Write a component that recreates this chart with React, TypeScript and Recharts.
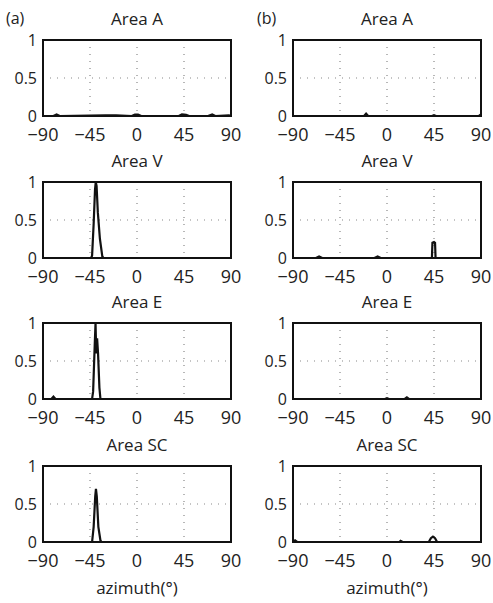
import { LineChart, Line, XAxis, YAxis, CartesianGrid } from "recharts";

const xTicks = [-90, -45, 0, 45, 90];
const yTicks = [0, 0.5, 1];

// (a) column
const azAa = [-90, -80, -77, -74, -45, -30, -20, -5, -2, 1, 4, 40, 43, 47, 50, 68, 72, 75, 88, 90];
const valAa = [0, 0, 0.02, 0, 0.005, 0.01, 0.01, 0, 0.02, 0.02, 0, 0, 0.02, 0.015, 0, 0, 0.02, 0, 0.01, 0];
const azVa = [-90, -44, -43, -41.5, -40.2, -39.5, -38.7, -37.5, -35.5, -33.2, -32, 90];
const valVa = [0, 0, 0.03, 0.45, 0.9, 1.0, 0.95, 0.6, 0.25, 0.02, 0, 0];
const azEa = [-90, -82, -80, -78, -43, -42, -40.5, -39.7, -39, -38.2, -37.3, -36, -35, 90];
const valEa = [0, 0, 0.03, 0, 0, 0.1, 0.7, 1.0, 0.6, 0.8, 0.6, 0.15, 0, 0];
const azSCa = [-90, -43, -41.5, -40, -39.3, -38.5, -37, -35, -34, 90];
const valSCa = [0, 0, 0.2, 0.6, 0.7, 0.6, 0.2, 0.02, 0, 0];

// (b) column
const azAb = [-90, -22, -20, -18, 43, 45, 47, 88, 90];
const valAb = [0, 0, 0.03, 0, 0, 0.01, 0, 0, 0.02];
const azVb = [-90, -68, -65, -62, -12, -9, -6, 43, 43.5, 45, 46, 46.5, 90];
const valVb = [0, 0, 0.02, 0, 0, 0.02, 0, 0, 0.2, 0.21, 0.2, 0, 0];
const azEb = [-90, -2, 0, 2, 17, 19, 21, 90];
const valEb = [0, 0, 0.01, 0, 0, 0.02, 0, 0];
const azSCb = [-90, -88, -86, 12, 13, 15, 40, 42, 44, 46, 48, 90];
const valSCb = [0, 0.02, 0, 0, 0.015, 0, 0, 0.05, 0.07, 0.05, 0, 0];

const FONT = "'Open Sans', sans-serif";
const PW = 188;
const PH = 76;
const YW = 43;
const MT = 12;
const MR = 16;

const zip = (az: number[], val: number[]) => az.map((a, i) => ({ az: a, v: val[i] }));
const fmtX = (v: number) => String(v).replace("-", "\u2212");

const bar = (l: number, t: number, w: number, h: number) => (
  <div style={{ position: "absolute", zIndex: 5, left: l, top: t, width: w, height: h, backgroundColor: "#111" }} />
);

function Panel({ left, top, title, az, val, xlabel }: { left: number; top: number; title: string; az: number[]; val: number[]; xlabel?: boolean }) {
  const data = zip(az, val);
  const axis = { stroke: "#111", strokeWidth: 1.5 };
  return (
    <div style={{ position: "absolute", left: left - YW, top: top - 32, width: YW + PW + MR, height: 150 }}>
      <div style={{ position: "absolute", left: YW, top: 0, width: PW, textAlign: "center", fontFamily: FONT, fontSize: 17, color: "#222", lineHeight: "22px" }}>
        {title}
      </div>
      <div style={{ position: "absolute", left: 0, top: 32 - MT }}>
        <LineChart width={YW + PW + MR} height={PH + MT + 32} data={data} margin={{ top: MT, right: MR, bottom: 0, left: 0 }}>
          <CartesianGrid stroke="#888" strokeDasharray="1 6" strokeWidth={1.2} />
          <XAxis dataKey="az" type="number" domain={[-90, 90]} ticks={xTicks} tickFormatter={fmtX}
            axisLine={axis} tickLine={false} tickSize={0} tickMargin={12} height={32}
            tick={{ fill: "#222", fontSize: 18, fontFamily: FONT }} interval={0} />
          <YAxis type="number" domain={[0, 1]} ticks={yTicks} axisLine={axis} tickLine={false} tickSize={0} tickMargin={6}
            width={YW} tick={{ fill: "#222", fontSize: 16, fontFamily: FONT }} interval={0} />
          <Line dataKey="v" type="linear" stroke="#111" strokeWidth={2.2} dot={false} isAnimationActive={false} />
        </LineChart>
      </div>
      {/* plot frame */}
      {bar(YW - 1, 31, PW + 2, 2)}
      {bar(YW - 1, 32 + PH - 1, PW + 2, 2)}
      {bar(YW - 1, 31, 2, PH + 2)}
      {bar(YW + PW - 1, 31, 2, PH + 2)}
      {xlabel && (
        <div style={{ position: "absolute", left: YW, top: 32 + PH + 35, width: PW, textAlign: "center", fontFamily: FONT, fontSize: 17, color: "#222", lineHeight: "22px" }}>
          azimuth(°)
        </div>
      )}
    </div>
  );
}

export default function App() {
  const L = 43;
  const R = 293;
  const rows = [40, 182, 323, 466];
  return (
    <div style={{ position: "absolute", left: 0, top: 0, width: 493, height: 603, background: "#fff" }}>
      <div style={{ position: "absolute", left: 6, top: 7, fontFamily: FONT, fontSize: 16, color: "#222" }}>(a)</div>
      <div style={{ position: "absolute", left: 257, top: 7, fontFamily: FONT, fontSize: 16, color: "#222" }}>(b)</div>
      <Panel left={L} top={rows[0]} title="Area A" az={azAa} val={valAa} />
      <Panel left={L} top={rows[1]} title="Area V" az={azVa} val={valVa} />
      <Panel left={L} top={rows[2]} title="Area E" az={azEa} val={valEa} />
      <Panel left={L} top={rows[3]} title="Area SC" az={azSCa} val={valSCa} xlabel />
      <Panel left={R} top={rows[0]} title="Area A" az={azAb} val={valAb} />
      <Panel left={R} top={rows[1]} title="Area V" az={azVb} val={valVb} />
      <Panel left={R} top={rows[2]} title="Area E" az={azEb} val={valEb} />
      <Panel left={R} top={rows[3]} title="Area SC" az={azSCb} val={valSCb} xlabel />
    </div>
  );
}
